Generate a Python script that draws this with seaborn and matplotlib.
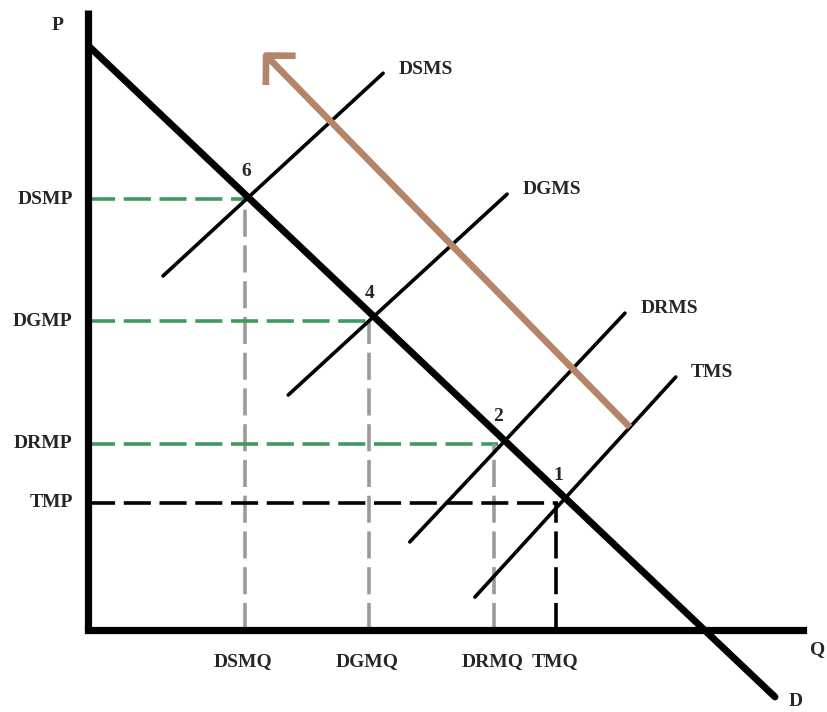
import pandas as pd
import matplotlib.pyplot as plt
import seaborn as sns

# Diagram values (quantity Q, price P)
supply_names = ["DSMS", "DGMS", "DRMS", "TMS"]
supply_q_start = [1.21, 3.23, 5.19, 6.24]
supply_p_start = [5.71, 3.79, 1.42, 0.53]
supply_q_end = [4.76, 6.76, 8.66, 9.48]
supply_p_end = [8.98, 7.03, 5.11, 4.08]

demand_q = [0.03, 11.08]
demand_p = [9.40, -1.08]

eq_labels = ["6", "4", "2", "1"]
eq_q = [2.55, 4.55, 6.62, 7.58]
eq_p = [6.95, 4.98, 3.00, 2.05]

price_labels = ["DSMP", "DGMP", "DRMP", "TMP"]
qty_labels = ["DSMQ", "DGMQ", "DRMQ", "TMQ"]
qty_values = [2.53, 4.53, 6.55, 7.55]

shift_q = [8.74, 2.82]   # brown arrow tail -> tip
shift_p = [3.27, 9.32]

axis_q_max = 11.53
axis_p_max = 10.0

sns.set_style("white")
font = dict(family="Liberation Serif", weight="bold", size=14)

fig = plt.figure(figsize=(8.27, 7.12), dpi=100)
ax = fig.add_axes([0, 0, 1, 1])
ax.set_xlim(-1.419, 11.919)
ax.set_ylim(-1.323, 10.161)
ax.axis("off")

# dashed guide lines
for i in range(len(eq_q)):
    hcol = "black" if price_labels[i] == "TMP" else "#3f9a5e"
    vcol = "black" if qty_labels[i] == "TMQ" else "#9a9a9a"
    ax.plot([0, eq_q[i]], [eq_p[i], eq_p[i]], color=hcol, lw=2.6,
            dashes=(7.5, 2.4), zorder=1)
    ax.plot([qty_values[i], qty_values[i]], [0, eq_p[i]], color=vcol, lw=2.6,
            dashes=(7.5, 2.4), zorder=1)
    ax.annotate(price_labels[i], (0, eq_p[i]), xytext=(-11, 0),
                textcoords="offset points", ha="right", va="center", **font)
    ax.annotate(qty_labels[i], (qty_values[i], 0), xytext=(-1, -23),
                textcoords="offset points", ha="center", va="center", **font)
    ax.annotate(eq_labels[i], (eq_q[i], eq_p[i]), xytext=(0, 20),
                textcoords="offset points", ha="center", va="center", **font)

# supply curves
supply = pd.DataFrame({
    "name": supply_names * 2,
    "Q": supply_q_start + supply_q_end,
    "P": supply_p_start + supply_p_end,
})
sns.lineplot(data=supply, x="Q", y="P", units="name", estimator=None,
             sort=False, color="black", lw=2.6, ax=ax, zorder=3)
for i, name in enumerate(supply_names):
    ax.annotate(name, (supply_q_end[i], supply_p_end[i]), xytext=(11, 3),
                textcoords="offset points", ha="left", va="center", **font)

# demand curve
sns.lineplot(x=demand_q, y=demand_p, color="black", lw=5, ax=ax, zorder=4)
ax.annotate("D", (demand_q[1], demand_p[1]), xytext=(15, -3),
            textcoords="offset points", ha="center", va="center", **font)

# axes
ax.plot([0, 0], [0, axis_p_max], color="black", lw=5.2, zorder=5,
        solid_capstyle="butt")
ax.plot([0, axis_q_max], [0, 0], color="black", lw=5.2, zorder=5,
        solid_capstyle="projecting")
ax.annotate("P", (0, axis_p_max), xytext=(-22, -11),
            textcoords="offset points", ha="center", va="center", **font)
ax.annotate("Q", (axis_q_max, 0), xytext=(5, -14),
            textcoords="offset points", ha="left", va="center", **font)

# shift arrow
ax.annotate("", xy=(shift_q[1], shift_p[1]), xytext=(shift_q[0], shift_p[0]),
            arrowprops=dict(arrowstyle="->, head_length=1.5, head_width=1.5",
                            color="#b3866a", lw=4.8, mutation_scale=10,
                            shrinkA=0, shrinkB=0, capstyle="butt"),
            zorder=6)

fig.savefig("out.png", dpi=100, facecolor="white")
